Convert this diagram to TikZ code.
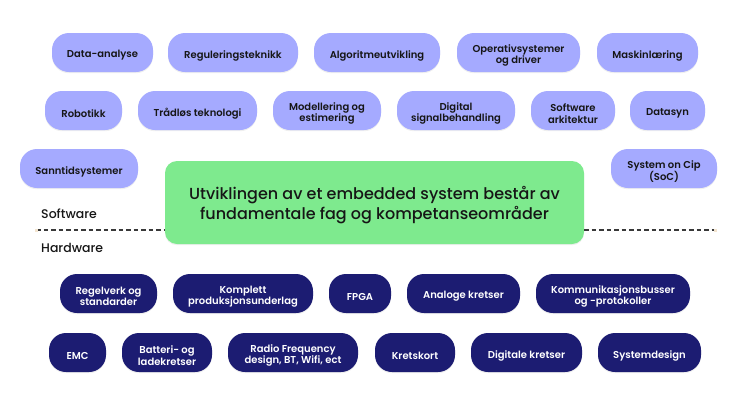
\documentclass[tikz,border=0pt]{standalone}
\usepackage{fontspec}
\setmainfont{Poppins}[UprightFont=* Medium, BoldFont=* SemiBold]
\usetikzlibrary{shadows,calc}
\definecolor{swfill}{HTML}{A5AAFF}
\definecolor{hwfill}{HTML}{1C1C72}
\definecolor{gfill}{HTML}{7EEA8E}
\definecolor{txt}{HTML}{161616}
\definecolor{beige}{HTML}{F3E4CF}
\tikzset{
  pill/.style={rounded corners=17pt, minimum height=39pt, inner sep=0pt,
    drop shadow={opacity=0.12, shadow xshift=0pt, shadow yshift=-1.2pt}},
  sw/.style={pill, fill=swfill},
  hw/.style={pill, fill=hwfill},
  pilltext/.style={inner sep=0pt, align=center, font=\bfseries\fontsize{10}{11.5}\selectfont},
  swtext/.style={pilltext, text=txt},
  hwtext/.style={pilltext, text=white},
  lbl/.style={anchor=west, inner sep=0pt, text=txt, font=\fontsize{12.5}{14}\selectfont},
  dline/.style={draw=txt!85, dash pattern=on 4.5pt off 3pt, line width=1.1pt},
}
\newcommand\pillnode[6]{%
  \node[#1, minimum width=#5pt] (#2) at (#3,#4) {};
  \node[#1text] (#2t) at ([yshift=-3pt]#2.center) {#6};}
\begin{document}
\begin{tikzpicture}[x=1pt,y=-1pt]
\useasboundingbox (0,0) rectangle (750,405);
\fill[white] (0,0) rectangle (750,405);
% software row 1
\pillnode{sw}{da}{102.5}{52.5}{101}{Data-analyse}
\pillnode{sw}{rt}{233}{52.5}{130}{Reguleringsteknikk}
\pillnode{sw}{av}{377}{52.5}{126}{Algoritmeutvikling}
\pillnode{sw}{os}{518.5}{52.5}{123}{Operativsystemer\\og driver}
\pillnode{sw}{ml}{647.5}{52.5}{101}{Maskinlæring}
% software row 2
\pillnode{sw}{rb}{83.5}{110.5}{77}{Robotikk}
\pillnode{sw}{tt}{197.5}{110.5}{119}{Trådløs teknologi}
\pillnode{sw}{me}{327}{110.5}{108}{Modellering og\\estimering}
\pillnode{sw}{ds}{456}{110.5}{118}{Digital\\signalbehandling}
\pillnode{sw}{sa}{573}{110.5}{84}{Software\\arkitektur}
\pillnode{sw}{dy}{667.5}{110.5}{75}{Datasyn}
% software row 3
\pillnode{sw}{st}{79}{168.5}{118}{Sanntidsystemer}
\pillnode{sw}{soc}{664}{168.5}{106}{System on Cip\\(SoC)}
% centre
\node[fill=gfill, rounded corners=12pt, minimum width=419pt, minimum height=83pt, inner sep=0pt,
  drop shadow={opacity=0.12, shadow xshift=0pt, shadow yshift=-1.2pt}] (g) at (374.5,202.5) {};
\node[inner sep=0pt, align=center, text=txt, font=\fontsize{16}{20}\selectfont] (gt)
  at ([yshift=-3pt]g.center)
  {Utviklingen av et embedded system består av\\fundamentale fag og kompetanseområder};
% labels
\node[lbl] (swl) at (41,214) {Software};
\node[lbl] (hwl) at (41,248) {Hardware};
% dashed divider
\coordinate (dl) at (36,230);
\coordinate (dr) at (715,230);
\draw[dline] (dl) -- (dl -| g.west);
\draw[dline] (dl -| g.east) -- (dr);
\fill[beige] ($(dl)+(-1.5,-1.5)$) rectangle ($(dl)+(1.5,1.5)$);
\fill[beige] ($(dr)+(-1.5,-1.5)$) rectangle ($(dr)+(1.5,1.5)$);
% hardware row 1
\pillnode{hw}{rs}{108.5}{293.5}{97}{Regelverk og\\standarder}
\pillnode{hw}{kp}{243}{293.5}{140}{Komplett\\produksjonsunderlag}
\pillnode{hw}{fp}{360}{293.5}{62}{FPGA}
\pillnode{hw}{ak}{463.5}{293.5}{113}{Analoge kretser}
\pillnode{hw}{kb}{613}{293.5}{154}{Kommunikasjonsbusser\\og -protokoller}
% hardware row 2
\pillnode{hw}{emc}{77.5}{352.5}{57}{EMC}
\pillnode{hw}{bl}{167}{352.5}{90}{Batteri- og\\ladekretser}
\pillnode{hw}{rf}{293}{352.5}{130}{Radio Frequency\\design, BT, Wifi, ect}
\pillnode{hw}{kk}{415}{352.5}{80}{Kretskort}
\pillnode{hw}{dk}{526.5}{352.5}{111}{Digitale kretser}
\pillnode{hw}{sd}{649.5}{352.5}{103}{Systemdesign}
\end{tikzpicture}
\end{document}
